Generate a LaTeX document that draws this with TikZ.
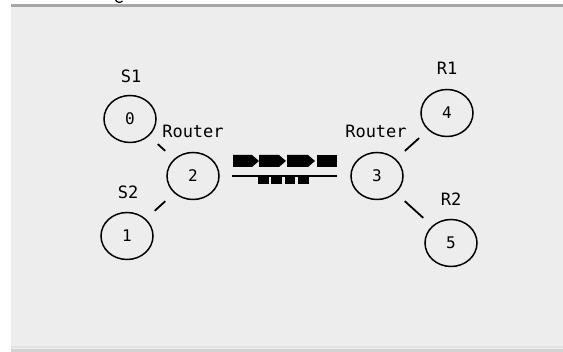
\documentclass[tikz,border=0pt]{standalone}
\usepackage{fontspec}
\setmonofont{DejaVu Sans Mono}
\usetikzlibrary{shapes.geometric,calc}
\definecolor{panel}{HTML}{EDEDED}
\definecolor{topline}{HTML}{A6A6A6}
\definecolor{botlineA}{HTML}{E2E2E2}
\definecolor{botlineB}{HTML}{D3D3D3}
\tikzset{
  netnode/.style={draw=black, line width=1.5pt, ellipse, minimum width=52pt, minimum height=47pt, inner sep=0pt, font=\ttfamily\fontsize{16}{16}\selectfont},
  lbl/.style={inner sep=0pt, font=\ttfamily\fontsize{17}{17}\selectfont},
  netlink/.style={draw=black, line width=1.8pt},
  pkt/.style={fill=black}
}
\begin{document}
\begin{tikzpicture}[x=1pt,y=-1pt]
\useasboundingbox (0,0) rectangle (563,352);
\fill[white] (0,0) rectangle (563,352);
\fill[panel] (11,7) rectangle (563,352);
\fill[topline] (11,4.3) rectangle (563,7.3);
\fill[botlineA] (11,345.7) rectangle (563,348.3);
\fill[botlineB] (11,349) rectangle (563,352);
% cut-off fragment at top
\draw[line width=1.2pt] (115.5,-0.5) .. controls (116,3) and (121,3) .. (122.5,1);

% nodes
\node[netnode] (n0) at (130,119) {0};
\node[netnode] (n1) at (127,236) {1};
\node[netnode] (n2) at (193,176) {2};
\node[netnode] (n3) at (377,176) {3};
\node[netnode] (n4) at (447,113) {4};
\node[netnode] (n5) at (451,243) {5};

% labels
\node[lbl] (l0) at (131,76) {S1};
\node[lbl] (l1) at (128,192) {S2};
\node[lbl] (l2) at (193,131) {Router};
\node[lbl] (l3) at (376,131) {Router};
\node[lbl] (l4) at (447,68) {R1};
\node[lbl] (l5) at (451,199) {R2};

% links
\draw[netlink] ($(n0)!37.5pt!(n2)$) -- ($(n2)!37.5pt!(n0)$);
\draw[netlink] ($(n1)!37.5pt!(n2)$) -- ($(n2)!37.5pt!(n1)$);
\draw[netlink] ($(n3)!37.5pt!(n4)$) -- ($(n4)!37.5pt!(n3)$);
\draw[netlink] ($(n3)!37.5pt!(n5)$) -- ($(n5)!37.5pt!(n3)$);
\draw[black, line width=1.6pt] ($(n2)!39pt!(n3)$) -- ($(n3)!40pt!(n2)$);

% packets forward
\fill[pkt] (233,155) -- (252,155) -- (259,161) -- (252,167) -- (233,167) -- cycle;
\fill[pkt] (259,155) -- (279,155) -- (286,161) -- (279,167) -- (259,167) -- cycle;
\fill[pkt] (287,155) -- (308,155) -- (315,161) -- (308,167) -- (287,167) -- cycle;
\fill[pkt] (317,155) rectangle (337,167);
% packets backward (acks)
\fill[pkt] (258,177.5) rectangle (268.5,184);
\fill[pkt] (271,177.5) rectangle (281.5,184);
\fill[pkt] (284.5,177.5) rectangle (295,184);
\fill[pkt] (298,177.5) rectangle (308.5,184);
\end{tikzpicture}
\end{document}
